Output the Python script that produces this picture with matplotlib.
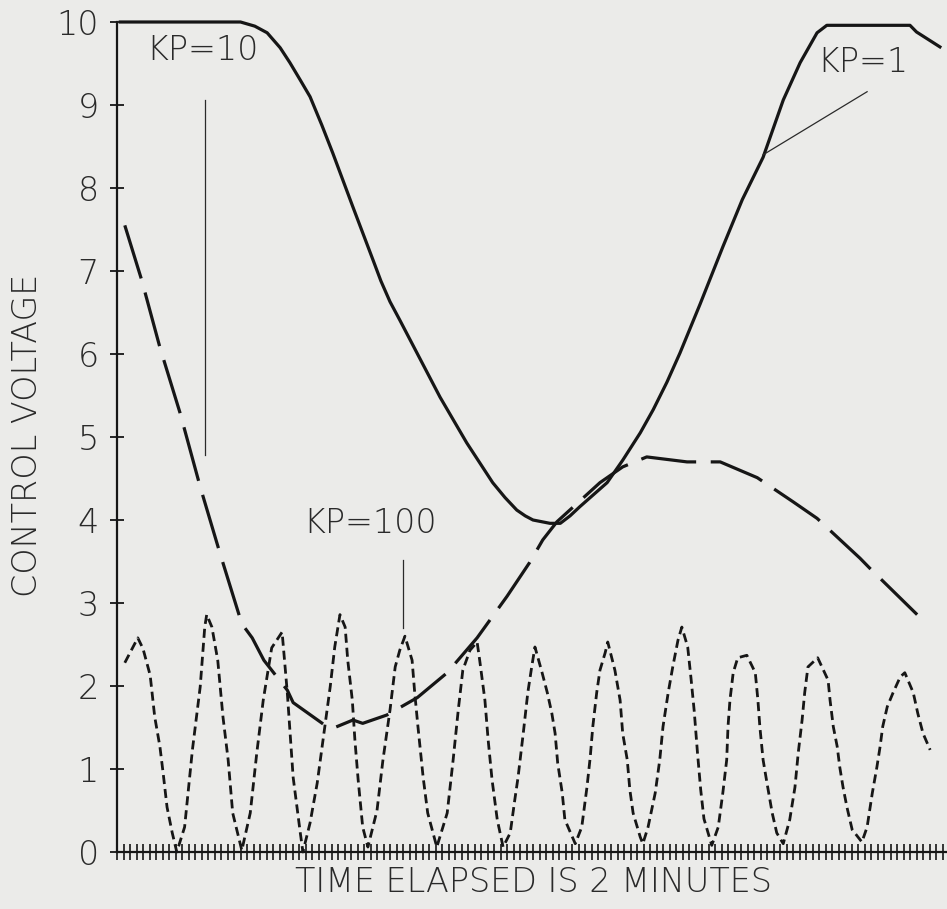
import matplotlib
matplotlib.use("Agg")
import matplotlib.pyplot as plt
from matplotlib.ticker import MultipleLocator, FixedLocator

plt.rcParams['lines.scale_dashes'] = False
plt.rcParams['font.family'] = ['DejaVu Sans']
plt.rcParams['font.weight'] = 200

# ---- data (time in tick units, voltage) ----
kp1_t = [0.5, 19.0, 21.2, 23.1, 25.1, 26.6, 28.2, 29.7, 31.5, 33.2, 36.3, 39.4, 40.6,
         42.0, 43.5, 45.5, 49.7, 53.8, 57.8, 59.7, 61.5, 62.8, 64.0, 66.6, 68.2, 69.7, 71.2,
         75.4, 77.8, 80.5, 82.5, 84.6, 86.6, 89.7, 93.2, 96.2, 99.4, 102.5, 105.1,
         107.7, 109.2, 122.0, 123.0, 126.6]
kp1_v = [10.0, 10.0, 9.95, 9.87, 9.69, 9.51, 9.30, 9.10, 8.76, 8.42, 7.77, 7.13, 6.88,
         6.63, 6.41, 6.11, 5.48, 4.93, 4.45, 4.27, 4.12, 4.05, 4.00, 3.96, 3.96, 4.05, 4.16,
         4.45, 4.72, 5.05, 5.33, 5.66, 6.01, 6.60, 7.29, 7.86, 8.37, 9.06, 9.51,
         9.87, 9.96, 9.96, 9.88, 9.70]

kp10_t = [1.2, 3.8, 6.6, 9.7, 12.8, 15.8, 19.2, 20.8, 22.6, 26.2, 27.1, 32.3, 33.2,
          36.3, 37.8, 41.5, 46.2, 50.8, 55.4, 60.0, 63.5, 65.5, 67.7, 74.3, 77.8, 81.5,
          87.7, 92.8, 98.5, 104.0, 107.7, 114.3, 115.8, 123.1]
kp10_v = [7.55, 6.89, 6.08, 5.29, 4.40, 3.61, 2.75, 2.58, 2.31, 1.95, 1.80, 1.51, 1.49,
          1.59, 1.55, 1.65, 1.86, 2.16, 2.58, 3.08, 3.49, 3.76, 3.98, 4.45, 4.64, 4.76,
          4.70, 4.70, 4.51, 4.22, 4.02, 3.54, 3.42, 2.86]

kp100_t = [1.2, 3.2, 4.0, 5.1, 5.8, 6.6, 7.1, 7.7, 8.5, 9.2,
           10.4, 11.6, 12.8, 13.5, 13.8,
           14.6, 15.5, 16.3, 17.1, 17.8, 19.2,
           20.5, 21.5, 22.5, 23.8, 25.4,
           26.2, 27.1, 28.2, 28.6,
           29.7, 30.8, 31.7, 32.8, 33.5, 34.3,
           35.1, 35.5, 36.2, 36.6, 37.1, 37.8, 38.6,
           40.0, 40.9, 42.0, 42.8, 43.5, 44.3,
           45.4, 45.8, 46.3, 47.1, 47.8, 49.2,
           50.8, 51.7, 52.5, 53.2, 54.3, 55.4,
           55.8, 56.6, 57.1, 57.7, 58.5, 59.4,
           60.5, 61.2, 61.7, 62.5, 63.2, 63.8, 64.3,
           65.4, 66.2, 66.9, 67.4, 67.8, 68.5, 68.9, 70.5,
           71.5, 72.3, 72.8, 73.2, 73.8, 74.3, 75.1, 75.5,
           76.6, 77.4, 77.8, 78.5, 78.9, 79.4, 80.5, 80.9,
           81.7, 82.8, 83.5, 84.0, 84.8, 85.5, 86.3, 86.9,
           87.8, 88.3, 88.8, 89.3, 89.8, 90.3, 91.5,
           92.5, 93.2, 93.8, 94.0, 94.3, 94.8, 95.5, 96.9,
           98.2, 98.6, 98.9, 99.4, 100.0, 100.8, 101.5, 102.5,
           103.5, 104.3, 104.8, 105.4, 105.8, 106.3, 107.8,
           109.4, 109.7, 110.2, 110.8, 111.2, 111.7, 112.3, 113.1, 114.6,
           115.4, 116.2, 116.9, 117.4, 117.8, 118.5, 119.4, 120.5, 121.2,
           122.5, 123.2, 124.0, 125.1]
kp100_v = [2.28, 2.58, 2.45, 2.13, 1.63, 1.27, 0.95, 0.54, 0.23, 0.00,
           0.30, 1.23, 1.99, 2.71, 2.86,
           2.71, 2.31, 1.63, 1.11, 0.47, 0.02,
           0.47, 1.19, 1.83, 2.46, 2.65,
           1.92, 0.90, 0.23, 0.00,
           0.35, 0.83, 1.35, 1.99, 2.47, 2.86,
           2.71, 2.31, 1.83, 1.35, 0.87, 0.30, 0.06,
           0.50, 1.10, 1.71, 2.23, 2.43, 2.60,
           2.31, 1.92, 1.51, 0.90, 0.47, 0.06,
           0.47, 1.10, 1.71, 2.19, 2.43, 2.53,
           2.31, 1.83, 1.35, 0.87, 0.39, 0.06,
           0.23, 0.63, 0.90, 1.43, 1.92, 2.23, 2.47,
           2.16, 1.92, 1.67, 1.43, 1.07, 0.71, 0.39, 0.10,
           0.30, 0.78, 1.14, 1.51, 1.92, 2.19, 2.40, 2.53,
           2.19, 1.83, 1.43, 1.11, 0.75, 0.47, 0.18, 0.10,
           0.30, 0.71, 1.11, 1.51, 1.92, 2.23, 2.55, 2.71,
           2.47, 2.10, 1.70, 1.20, 0.75, 0.40, 0.08,
           0.30, 0.71, 1.11, 1.51, 1.83, 2.16, 2.34, 2.37,
           2.16, 1.83, 1.51, 1.11, 0.83, 0.47, 0.23, 0.10,
           0.39, 0.78, 1.19, 1.59, 1.92, 2.23, 2.34,
           2.07, 1.83, 1.51, 1.27, 1.02, 0.78, 0.54, 0.27, 0.12,
           0.30, 0.71, 1.02, 1.27, 1.51, 1.75, 1.92, 2.11, 2.16,
           1.92, 1.67, 1.43, 1.23]

y_ticks = [0, 1, 2, 3, 4, 5, 6, 7, 8, 9, 10]
y_tick_labels = ['0', '1', '2', '3', '4', '5', '6', '7', '8', '9', '10']

labels = ['KP=1', 'KP=10', 'KP=100']
label_xy = [(114.8, 9.51), (13.2, 9.66), (38.9, 3.96)]
pointer_from = [(115.4, 9.16), (13.5, 9.06), (44.0, 3.52)]
pointer_to = [(99.4, 8.40), (13.5, 4.78), (44.0, 2.70)]

x_label = 'TIME ELAPSED IS 2 MINUTES'
y_label = 'CONTROL VOLTAGE'

# ---- figure ----
W, H = 947, 909
bg = '#ebebe9'
ink = '#161616'
txt = '#2a2a2a'
fig = plt.figure(figsize=(W / 100, H / 100), dpi=100, facecolor=bg)
ax = fig.add_axes([117 / W, (H - 852) / H, 830 / W, 830 / H], facecolor=bg)

ax.plot(kp1_t, kp1_v, color=ink, lw=2.3, solid_joinstyle='round', clip_on=False)
l10, = ax.plot(kp10_t, kp10_v, color=ink, lw=2.3, clip_on=False)
l10.set_dashes([40, 10.5])
l100, = ax.plot(kp100_t, kp100_v, color=ink, lw=2.0, clip_on=False)
l100.set_dashes([6.5, 3.6])

for lab, (tx, ty), (x0, y0), (x1, y1) in zip(labels, label_xy, pointer_from, pointer_to):
    ax.text(tx, ty, lab, ha='center', va='center', fontsize=24, color=txt, fontweight=200)
    ax.plot([x0, x1], [y0, y1], color=txt, lw=0.9)

ax.set_xlim(0, 830 / 6.5)
ax.set_ylim(0, 10)
for s in ['top', 'right']:
    ax.spines[s].set_visible(False)
for s in ['left', 'bottom']:
    ax.spines[s].set_linewidth(1.6)
    ax.spines[s].set_color(ink)

ax.yaxis.set_major_locator(FixedLocator(y_ticks))
ax.set_yticklabels(y_tick_labels, fontweight=200)
ax.tick_params(axis='y', direction='inout', length=10, width=1.3, color=ink,
               labelsize=24, labelcolor=txt, pad=8)
ax.xaxis.set_major_locator(MultipleLocator(1))
ax.set_xticklabels([])
ax.tick_params(axis='x', direction='inout', length=11, width=1.2, color=ink)

fig.text(533 / W, 1 - 882 / H, x_label, ha='center', va='center', fontsize=24,
         color=txt, fontweight=200)
fig.text(28 / W, 1 - 435 / H, y_label, ha='center', va='center', rotation=90,
         fontsize=24, color=txt, fontweight=200)

fig.savefig('out.png', dpi=100, facecolor=bg)
